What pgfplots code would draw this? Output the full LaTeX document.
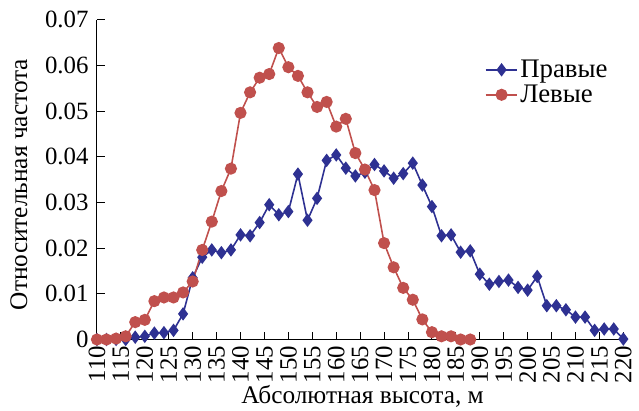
\documentclass[border={7pt 0pt 4pt 8pt}]{standalone}
\usepackage{pgfplots}
\pgfplotsset{compat=1.18}
\usepackage{fontspec}
\setmainfont{Liberation Serif}
\definecolor{cblue}{RGB}{46,49,146}
\definecolor{cred}{RGB}{192,80,77}
\begin{document}
\begin{tikzpicture}
\begin{axis}[
  scale only axis,
  width=534.8pt, height=322pt,
  xmin=110, xmax=221, ymin=0, ymax=0.07,
  axis x line*=bottom, axis y line*=left,
  axis line style={line width=1pt},
  xtick={110,115,...,220},
  ytick={0,0.01,0.02,0.03,0.04,0.05,0.06,0.07},
  yticklabels={0,0.01,0.02,0.03,0.04,0.05,0.06,0.07},
  scaled y ticks=false,
  tick align=inside,
  major tick length=8pt,
  tick style={line width=1pt,black},
  /pgf/number format/assume math mode=true,
  tick label style={font=\fontsize{25}{27}\selectfont},
  y tick label style={xshift=-5pt},
  x tick label style={rotate=90, anchor=east, xshift=-3pt},
  xlabel={Абсолютная высота, м},
  ylabel={Относительная частота},
  label style={font=\fontsize{25.5}{28}\selectfont},
  xlabel style={yshift=5pt},
  ylabel style={yshift=11pt, xshift=-5pt},
  legend style={at={(0.73,0.88)}, anchor=north west, draw=none, fill=none,
    font=\fontsize{27}{29}\selectfont, row sep=2pt, inner sep=0pt},
  legend cell align=left,
  legend image code/.code={\draw[mark repeat=2,mark phase=2] plot coordinates {(0pt,0pt) (16pt,0pt) (32pt,0pt)};},
  clip=false,
]
\addplot[cblue, line width=1.6pt, mark=diamond*, mark size=5.5pt, mark options={solid,fill=cblue}] coordinates {
(110,0) (112,0) (114,0) (116,0) (118,0.0005) (120,0.0007) (122,0.0014) (124,0.0015)
(126,0.002) (128,0.0056) (130,0.0135) (132,0.018) (134,0.0196) (136,0.019) (138,0.0196)
(140,0.0229) (142,0.0227) (144,0.0256) (146,0.0295) (148,0.0273) (150,0.028) (152,0.0362)
(154,0.0261) (156,0.0309) (158,0.0392) (160,0.0404) (162,0.0375) (164,0.0358) (166,0.0366)
(168,0.0383) (170,0.0369) (172,0.0353) (174,0.0363) (176,0.0386) (178,0.0338) (180,0.0291)
(182,0.0227) (184,0.0229) (186,0.0191) (188,0.0194) (190,0.0143) (192,0.0121) (194,0.0127)
(196,0.013) (198,0.0114) (200,0.0108) (202,0.0138) (204,0.0074) (206,0.0074) (208,0.0065)
(210,0.0049) (212,0.0049) (214,0.002) (216,0.0023) (218,0.0023) (220,0.0001)
};
\addlegendentry{Правые}
\addplot[cred, line width=1.6pt, mark=*, mark size=5.3pt, mark options={solid,fill=cred}] coordinates {
(110,0) (112,0) (114,0.0002) (116,0.0007) (118,0.0038) (120,0.0043) (122,0.0084) (124,0.0092)
(126,0.0092) (128,0.0103) (130,0.0127) (132,0.0196) (134,0.0258) (136,0.0325) (138,0.0374)
(140,0.0496) (142,0.0541) (144,0.0573) (146,0.0581) (148,0.0638) (150,0.0596) (152,0.0577)
(154,0.0541) (156,0.0509) (158,0.052) (160,0.0466) (162,0.0483) (164,0.0408) (166,0.0372)
(168,0.0327) (170,0.0211) (172,0.0158) (174,0.0113) (176,0.0087) (178,0.0044) (180,0.0016)
(182,0.0007) (184,0.0007) (186,0) (188,0)
};
\addlegendentry{Левые}
\end{axis}
\end{tikzpicture}
\end{document}
